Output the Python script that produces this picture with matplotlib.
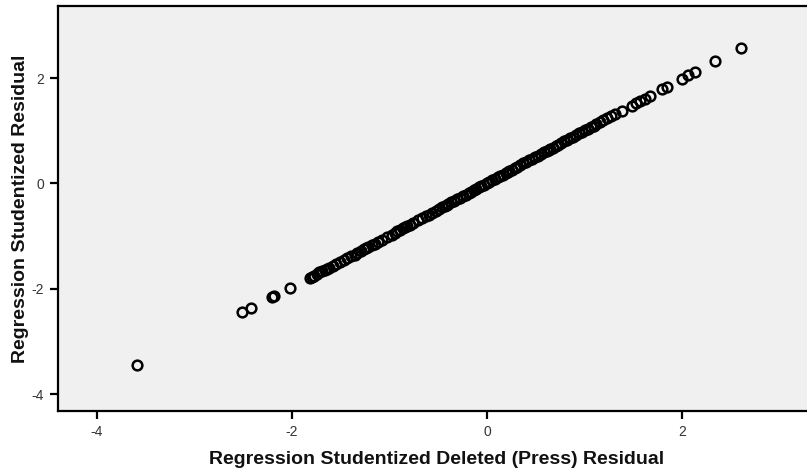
import matplotlib
matplotlib.use("Agg")
import matplotlib.pyplot as plt

# Regression residuals
deleted_resid = [-3.59, -2.51, -2.42, -2.21, -2.19, -2.02, -1.82, -1.80, -1.78, -1.75, -1.72,
                 -1.69, -1.66, -1.64, -1.62, -1.58, -1.55, -1.51, -1.47, -1.44, -1.40, -1.36,
                 -1.33, -1.29, -1.26, -1.24, -1.22, -1.18, -1.15, -1.12, -1.08, -1.03, -0.98,
                 -0.95, -0.92, -0.89, -0.86, -0.84, -0.82, -0.79, -0.76, -0.71, -0.67, -0.63,
                 -0.60, -0.57, -0.53, -0.49, -0.46, -0.43, -0.41, -0.40, -0.37, -0.34, -0.31,
                 -0.28, -0.25, -0.22, -0.19, -0.17, -0.14, -0.11, -0.08, -0.06, -0.03,
                 0.00, 0.02, 0.05, 0.08, 0.11, 0.13, 0.16, 0.19, 0.21, 0.22, 0.25,
                 0.28, 0.31, 0.34, 0.37, 0.40, 0.43, 0.46, 0.49, 0.52, 0.55,
                 0.58, 0.61, 0.63, 0.64, 0.67, 0.70, 0.73, 0.76, 0.79, 0.82, 0.85,
                 0.88, 0.91, 0.94, 0.97, 1.00, 1.03, 1.06, 1.09, 1.12, 1.16,
                 1.19, 1.23, 1.27, 1.31, 1.38, 1.48, 1.52, 1.57, 1.62, 1.67,
                 1.79, 1.84, 2.00, 2.06, 2.13, 2.34, 2.60]

studentized_resid = [-3.45, -2.44, -2.36, -2.16, -2.14, -1.98, -1.79, -1.77, -1.75, -1.72, -1.69,
                     -1.66, -1.64, -1.62, -1.60, -1.56, -1.53, -1.49, -1.45, -1.42, -1.38, -1.35,
                     -1.32, -1.28, -1.25, -1.23, -1.21, -1.17, -1.14, -1.11, -1.07, -1.02, -0.97,
                     -0.94, -0.91, -0.88, -0.85, -0.83, -0.81, -0.78, -0.75, -0.70, -0.66, -0.62,
                     -0.59, -0.56, -0.52, -0.48, -0.45, -0.42, -0.40, -0.39, -0.36, -0.33, -0.30,
                     -0.27, -0.24, -0.21, -0.18, -0.16, -0.13, -0.10, -0.07, -0.05, -0.02,
                     0.01, 0.03, 0.06, 0.09, 0.12, 0.14, 0.17, 0.20, 0.22, 0.23, 0.26,
                     0.29, 0.32, 0.35, 0.38, 0.41, 0.44, 0.47, 0.50, 0.53, 0.56,
                     0.59, 0.62, 0.64, 0.65, 0.68, 0.71, 0.74, 0.77, 0.80, 0.83, 0.86,
                     0.89, 0.92, 0.95, 0.98, 1.01, 1.04, 1.07, 1.10, 1.13, 1.17,
                     1.20, 1.24, 1.28, 1.32, 1.38, 1.48, 1.52, 1.57, 1.61, 1.66,
                     1.79, 1.84, 1.99, 2.06, 2.11, 2.32, 2.57]

x_ticks = [-4, -2, 0, 2]
y_ticks = [-4, -2, 0, 2]

plt.rcParams['font.family'] = ['Liberation Sans', 'DejaVu Sans']
plt.rcParams['axes.unicode_minus'] = False

fig = plt.figure(figsize=(8.07, 4.76), dpi=100)
ax = fig.add_axes([58 / 807, 65 / 476, 757 / 807, 405 / 476])
ax.set_facecolor('#f0f0f0')

ax.plot(deleted_resid, studentized_resid, linestyle='none', marker='o',
        markersize=7, markerfacecolor='none', markeredgecolor='black',
        markeredgewidth=1.8)

ax.set_xlim(-4.4, 3.36)
ax.set_ylim(-4.32, 3.37)
ax.set_xticks(x_ticks)
ax.set_yticks(y_ticks)
ax.tick_params(direction='out', length=6, width=1.6, labelsize=10,
               labelcolor='#333333', pad=4)

for s in ax.spines.values():
    s.set_linewidth(1.6)

ax.set_xlabel('Regression Studentized Deleted (Press) Residual',
              fontsize=14, fontweight='bold', color='#111111', labelpad=9)
ax.set_ylabel('Regression Studentized Residual',
              fontsize=14, fontweight='bold', color='#111111', labelpad=2)

fig.savefig('out.png', dpi=100)
